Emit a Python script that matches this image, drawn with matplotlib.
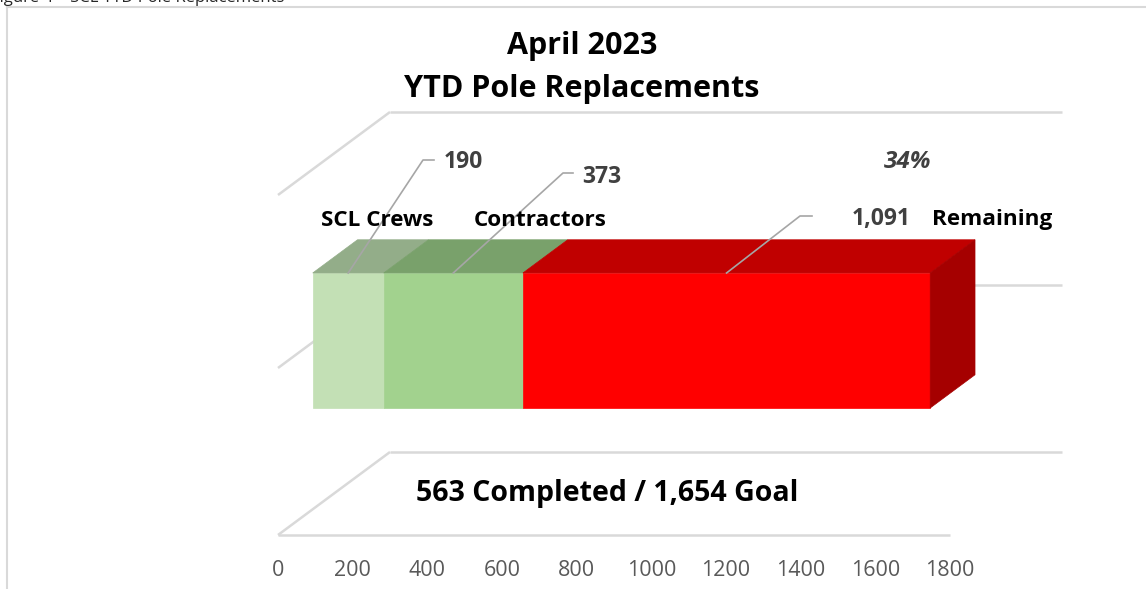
import numpy as np
import matplotlib
matplotlib.use('Agg')
import matplotlib.pyplot as plt
from matplotlib.patches import Polygon

# data
SERIES = ['SCL Crews', 'Contractors', 'Remaining']
VALUES = [190, 373, 1091]
GOAL = 1654
TICKS = [0, 200, 400, 600, 800, 1000, 1200, 1400, 1600, 1800]
TITLE = ['April 2023', 'YTD Pole Replacements']

FRONT = ['#C3E0B5', '#A2D28E', '#FF0000']
TOP = ['#93AD89', '#79A16B', '#C00000']
SIDE = '#A50000'
GRID = '#D9D9D9'
LEADER = '#A6A6A6'

plt.rcParams['font.family'] = ['Open Sans', 'DejaVu Sans']

W, H = 1146, 589
fig = plt.figure(figsize=(W / 100, H / 100), dpi=100)
ax = fig.add_axes([0, 0, 1, 1])
ax.axis('off')

# x in data units, y in pixel rows of the front plane
X0 = 278.0
K = 672.0 / 1800.0
ax.set_xlim(-X0 / K, (W - X0) / K)
ax.set_ylim(H, 0)

DX = 112.0 / K   # full depth of plot box, in data units
DY = -83.0


def px2v(px):
    return (px - X0) / K


def proj(v, t, y):
    return (v + t * DX, y + t * DY)


def seg(a, b, **kw):
    ax.plot([a[0], b[0]], [a[1], b[1]], solid_capstyle='butt', **kw)


# outer chart border
ax.plot([px2v(7), px2v(W)], [7, 7], color=GRID, lw=1.5)
ax.plot([px2v(7), px2v(7)], [7, H], color=GRID, lw=1.5)

# caption above the chart (mostly cut off in the source image)
ax.text(px2v(-9), 1.5, 'Figure 4 – SCL YTD Pole Replacements', fontsize=12,
        color='#262626', ha='left', va='baseline', clip_on=True)

# wall / floor edges
vmax = TICKS[-1]
for y in [195, 368, 535]:
    seg(proj(0, 0, y), proj(0, 1, y), color=GRID, lw=1.8, zorder=1)
    seg(proj(0, 1, y), proj(vmax, 1, y), color=GRID, lw=1.8, zorder=1)
seg(proj(0, 0, 535), proj(vmax, 0, 535), color=GRID, lw=1.8, zorder=1)

# 3d stacked bar
t0, t1 = 0.31, 0.71
ytop, ybot = 298.7, 433.7
starts = np.concatenate([[0], np.cumsum(VALUES)[:-1]])
ends = np.cumsum(VALUES)
for i, (s, e) in enumerate(zip(starts, ends)):
    front = [proj(s, t0, ytop), proj(e, t0, ytop), proj(e, t0, ybot), proj(s, t0, ybot)]
    top = [proj(s, t0, ytop), proj(e, t0, ytop), proj(e, t1, ytop), proj(s, t1, ytop)]
    ax.add_patch(Polygon(front, closed=True, fc=FRONT[i], ec=FRONT[i], lw=0.5, zorder=3))
    ax.add_patch(Polygon(top, closed=True, fc=TOP[i], ec=TOP[i], lw=0.5, zorder=3))
e = ends[-1]
side = [proj(e, t0, ytop), proj(e, t1, ytop), proj(e, t1, ybot), proj(e, t0, ybot)]
ax.add_patch(Polygon(side, closed=True, fc=SIDE, ec=SIDE, lw=0.5, zorder=3))

# leader lines + value labels
elbows = [(423, 160, 434), (563, 173, 573), (800, 216, 812)]
for i, (s, e) in enumerate(zip(starts, ends)):
    mid = (s + e) / 2
    p0 = proj(mid, t0, ytop)
    ex, ey, hx = elbows[i]
    ax.plot([p0[0], px2v(ex), px2v(hx)], [p0[1], ey, ey], color=LEADER, lw=1.2, zorder=4)

NUM = dict(fontsize=16.5, fontweight='bold', color='#404040', va='center', zorder=5)
ax.text(px2v(444), 162, f'{VALUES[0]:,}', ha='left', **NUM)
ax.text(px2v(582), 177, f'{VALUES[1]:,}', ha='left', **NUM)
ax.text(px2v(911), 219, f'{VALUES[2]:,}', ha='right', **NUM)

# series names
NAME = dict(fontsize=16.2, fontweight='bold', color='black', va='center', zorder=5)
ax.text(px2v(321), 221, SERIES[0], ha='left', **NAME)
ax.text(px2v(474), 221, SERIES[1], ha='left', **NAME)
ax.text(px2v(932), 219, SERIES[2], ha='left', **NAME)

# percent complete
done = sum(VALUES[:2])
ax.text(px2v(908), 162, f'{done / GOAL:.0%}', fontsize=17.5, fontweight='bold',
        fontstyle='italic', color='#404040', ha='center', va='center', zorder=5)

# title
ax.text(px2v(582), 46, TITLE[0], fontsize=22, fontweight='bold',
        ha='center', va='center')
ax.text(px2v(582), 89, TITLE[1], fontsize=22, fontweight='bold',
        ha='center', va='center')

# floor text
ax.text(px2v(607), 494, f'{done:,} Completed / {GOAL:,} Goal', fontsize=20.5,
        fontweight='bold', ha='center', va='center', zorder=5)

# axis tick labels
for tk in TICKS:
    ax.text(tk, 571, str(tk), fontsize=15.5, color='#595959',
            ha='center', va='center')

fig.savefig('out.png', dpi=100)
